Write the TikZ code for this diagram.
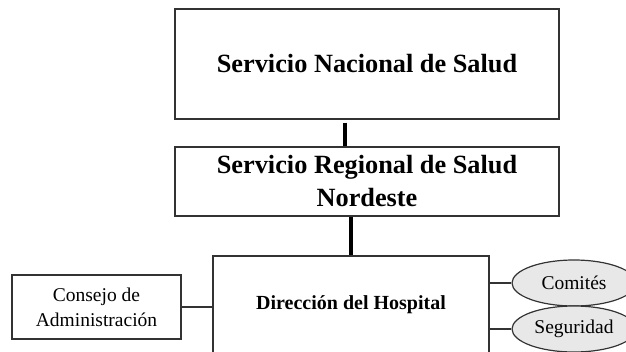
\documentclass[tikz,border=0pt]{standalone}
\usepackage{fontspec}
\setmainfont{Liberation Serif}
\usetikzlibrary{shapes.geometric}
\begin{document}
\begin{tikzpicture}[x=1pt,y=-1pt,
  box/.style={draw=black!80,line width=1.4pt,fill=white,inner sep=0pt,align=center},
  oval/.style={ellipse,draw=black!80,line width=1.2pt,fill=black!9,inner sep=0pt},
  thickcon/.style={line width=3.2pt,black},
  thincon/.style={line width=1.4pt,black!80},
  bigtext/.style={font=\fontsize{26.3}{33}\selectfont\bfseries},
  midtext/.style={font=\fontsize{19.5}{25}\selectfont}
]
\useasboundingbox (0,0) rectangle (626,351);
\clip (0,0) rectangle (626,351);
\node[box,bigtext,minimum width=384pt,minimum height=110pt] (nac) at (367,64) {Servicio Nacional de Salud};
\node[box,bigtext,minimum width=384pt,minimum height=69pt] (reg) at (367,181.5) {Servicio Regional de Salud\\Nordeste};
\node[box,minimum width=276pt,minimum height=97pt,font=\fontsize{20}{24}\selectfont\bfseries] (dir) at (351,304.5) {Dirección del Hospital};
\node[box,midtext,minimum width=169pt,minimum height=64pt] (con) at (96.5,307) {Consejo de\\Administración};
\node[oval,midtext,minimum width=124pt,minimum height=46pt] (com) at (574,283) {Comités};
\node[oval,midtext,minimum width=124pt,minimum height=46pt] (seg) at (574,329) {Seguridad};
\coordinate (x1) at (345,0);
\coordinate (x2) at (351,0);
\draw[thickcon] ([yshift=-3pt]nac.south -| x1) -- (reg.north -| x1);
\draw[thickcon] (reg.south -| x2) -- (dir.north -| x2);
\draw[thincon] (con.east) -- (con.east -| dir.west);
\draw[thincon] (com.west -| dir.east) -- (com.west);
\draw[thincon] (seg.west -| dir.east) -- (seg.west);
\end{tikzpicture}
\end{document}
